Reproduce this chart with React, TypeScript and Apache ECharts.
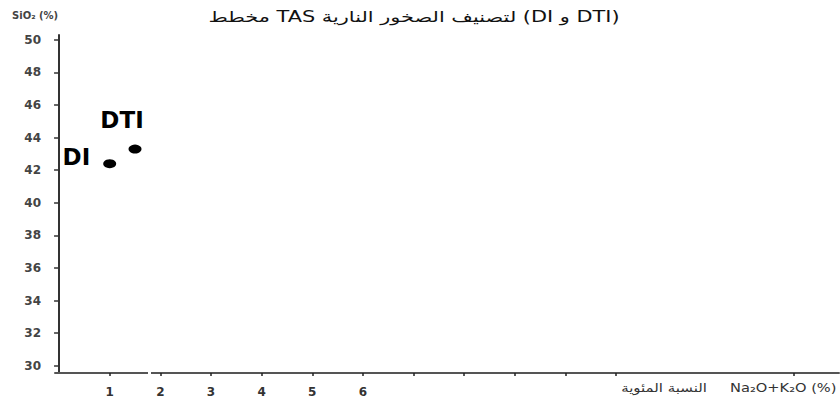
import React, { useEffect, useRef } from "react";
import * as echarts from "echarts";

const titleText = "مخطط TAS لتصنيف الصخور النارية (DI و DTI)";
const yAxisTitle = "SiO₂ (%)";
const xAxisArabic = "النسبة المئوية";
const xAxisTitle = "Na₂O+K₂O (%)";

const pointNames = ["DI", "DTI"];
const naK = [1.0, 1.5];
const sio2 = [42.4, 43.3];

const xLabelValues = [1, 2, 3, 4, 5, 6];
const xTickValues = [1, 2, 3, 4, 5, 6, 7, 8, 9, 10, 11, 14.5];
const yTickValues = [30, 32, 34, 36, 38, 40, 42, 44, 46, 48, 50];

const FONT = "DejaVu Sans, Noto Sans, sans-serif";

export default function App() {
  const ref = useRef<HTMLDivElement>(null);

  useEffect(() => {
    if (!ref.current) return;
    const chart = echarts.init(ref.current, undefined, { renderer: "svg" });

    const labelSettings = [
      { position: "left", distance: 13, offset: [0, -7] },
      { position: "top", distance: 13, offset: [-13, 0] },
    ];

    const data = pointNames.map((name, i) => ({
      name,
      value: [naK[i], sio2[i]],
      label: {
        show: true,
        formatter: name,
        position: labelSettings[i].position,
        distance: labelSettings[i].distance,
        offset: labelSettings[i].offset,
        fontSize: 23,
        fontWeight: "bold",
        color: "#000",
        fontFamily: FONT,
      },
    }));

    chart.setOption({
      animation: false,
      backgroundColor: "#ffffff",
      textStyle: { fontFamily: FONT },
      grid: { left: 55, right: 1, top: 35, bottom: 28, containLabel: false },
      xAxis: {
        type: "value",
        min: -0.08,
        max: 15.4,
        splitLine: { show: false },
        axisLine: { show: true, lineStyle: { color: "#555", width: 2 } },
        axisTick: {
          show: true,
          customValues: xTickValues,
          length: 3,
          lineStyle: { color: "#222", width: 1.5 },
        },
        axisLabel: {
          customValues: xLabelValues,
          margin: 13,
          fontSize: 12,
          fontWeight: "bold",
          color: "#333",
          fontFamily: FONT,
        },
      },
      yAxis: {
        type: "value",
        min: 29.55,
        max: 50.3,
        splitLine: { show: false },
        axisLine: { show: true, lineStyle: { color: "#333", width: 2 } },
        axisTick: {
          show: true,
          customValues: yTickValues,
          length: 5,
          lineStyle: { color: "#333", width: 1.5 },
        },
        axisLabel: {
          customValues: yTickValues,
          margin: 14,
          fontSize: 12,
          fontWeight: "bold",
          color: "#444",
          fontFamily: FONT,
        },
      },
      graphic: [
        {
          type: "text",
          x: 414,
          y: 17,
          scaleX: 1.39,
          style: {
            text: titleText,
            fontSize: 15,
            fill: "#111",
            fontFamily: FONT,
            align: "center",
            verticalAlign: "middle",
          },
        },
        {
          type: "text",
          x: 12,
          y: 15,
          style: {
            text: yAxisTitle,
            fontSize: 10,
            fontWeight: "bold",
            fill: "#444",
            fontFamily: FONT,
            align: "left",
            verticalAlign: "middle",
          },
        },
        {
          type: "text",
          x: 707,
          y: 388,
          scaleX: 1.25,
          style: {
            text: xAxisArabic,
            fontSize: 12,
            fill: "#333",
            fontFamily: FONT,
            align: "right",
            verticalAlign: "middle",
          },
        },
        {
          type: "text",
          x: 730,
          y: 388,
          scaleX: 1.22,
          style: {
            text: xAxisTitle,
            fontSize: 12,
            fill: "#333",
            fontFamily: FONT,
            align: "left",
            verticalAlign: "middle",
          },
        },
        {
          type: "rect",
          shape: { x: 148, y: 370, width: 3, height: 6 },
          style: { fill: "#ffffff" },
          z: 100,
        },
      ],
      series: [
        {
          type: "scatter",
          symbol: "circle",
          symbolSize: [13, 9],
          itemStyle: { color: "#000", opacity: 1 },
          data,
        },
      ],
    });

    return () => chart.dispose();
  }, []);

  return (
    <div
      ref={ref}
      style={{ position: "fixed", left: 0, top: 0, width: 840, height: 401 }}
    />
  );
}
